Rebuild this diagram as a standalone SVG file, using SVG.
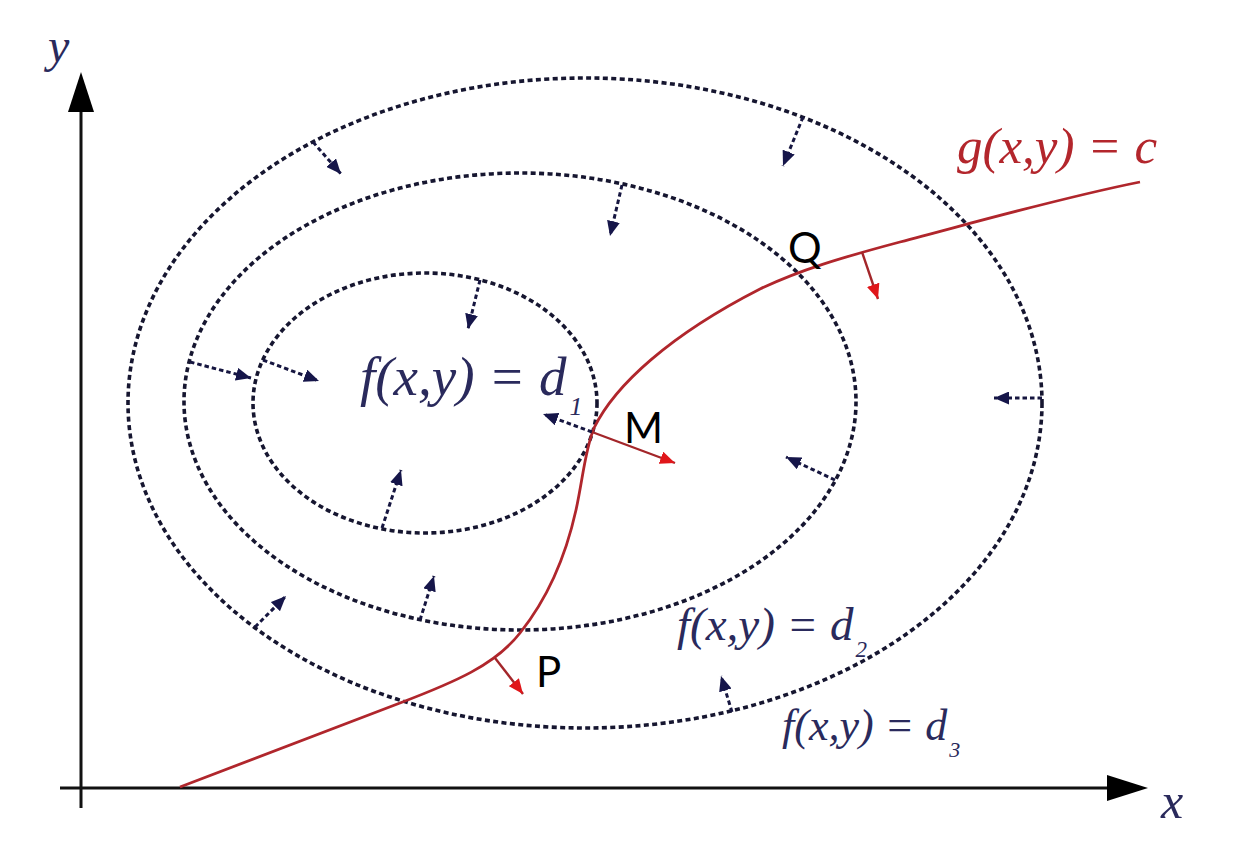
<svg xmlns="http://www.w3.org/2000/svg" width="1238" height="864" viewBox="0 0 1238 864">
<style>
.axis{stroke:#111;stroke-width:3;fill:none}
.level{fill:none;stroke:#161630;stroke-width:3.6;stroke-dasharray:5 3.4}
.grad{fill:none;stroke:#161640;stroke-width:3;stroke-dasharray:4.5 3;marker-end:url(#navyHead)}
.con{fill:none;stroke:#b0262c;stroke-width:2.8}
.norm{fill:none;stroke:#a3262a;stroke-width:2.4;marker-end:url(#redHead)}
.math{font-family:"Liberation Serif","Times New Roman",serif;font-style:italic;fill:#2a2a5c}
.pt{font-family:Lato,"Open Sans",sans-serif;font-size:42px;fill:#000}
</style>
<defs>
<marker id="navyHead" markerUnits="userSpaceOnUse" markerWidth="16" markerHeight="13" refX="15" refY="6.5" orient="auto">
<path d="M0,0 L15,6.5 L0,13 Z" fill="#16164a"/>
</marker>
<marker id="redHead" markerUnits="userSpaceOnUse" markerWidth="16" markerHeight="13" refX="15" refY="6.5" orient="auto">
<path d="M0,0 L15,6.5 L0,13 Z" fill="#e0161a"/>
</marker>
</defs>
<rect width="1238" height="864" fill="#fff"/>

<g id="axes">
<line class="axis" x1="81" y1="808" x2="81" y2="110"/>
<path d="M81,72 L94,112 L68,112 Z" fill="#000"/>
<line class="axis" x1="60" y1="788" x2="1109" y2="788"/>
<path d="M1148,788 L1107,775 L1107,801 Z" fill="#000"/>
<text class="math" x="48" y="62" font-size="48" fill="#222">y</text>
<text class="math" x="1161" y="818" font-size="50" fill="#222">x</text>
</g>

<g id="level-d3">
<ellipse class="level" cx="585" cy="403" rx="457" ry="325"/>
<text class="math" x="782" y="740" font-size="44">f(x,y) = d<tspan font-size="22" dx="2" dy="17">3</tspan></text>
</g>
<g id="level-d2">
<ellipse class="level" cx="520" cy="401.5" rx="336" ry="228.5"/>
<text class="math" x="677" y="640" font-size="47">f(x,y) = d<tspan font-size="23" dx="2" dy="17">2</tspan></text>
</g>
<g id="level-d1">
<ellipse class="level" cx="425" cy="403" rx="172" ry="130"/>
<text class="math" x="360" y="395" font-size="55">f(x,y) = d<tspan font-size="26" dx="3" dy="20">1</tspan></text>
</g>

<g id="constraint">
<path class="con" d="M180,787 L400,703 C455,682 495,665 520,633 C548,598 566,555 576,510 C583,478 585,450 594,428 C615,385 670,335 760,289 C800,270 840,258 900,242 C980,221 1060,198 1140,182"/>
<text x="957" y="163" font-family="Liberation Serif,'Times New Roman',serif" font-style="italic" font-size="51" fill="#b3262c">g(x,y) = c</text>
</g>

<g id="point-Q"><text class="pt" x="788" y="263">Q</text></g>
<g id="point-M"><text class="pt" x="624" y="443">M</text></g>
<g id="point-P"><text class="pt" x="536" y="687">P</text></g>

<g id="connectors">
<line class="grad" x1="313" y1="142" x2="341" y2="174"/>
<line class="grad" x1="803" y1="117" x2="783" y2="166"/>
<line class="grad" x1="622" y1="185" x2="610" y2="236"/>
<line class="grad" x1="480" y1="280" x2="468" y2="329"/>
<line class="grad" x1="190" y1="362" x2="251" y2="378"/>
<line class="grad" x1="263" y1="360" x2="319" y2="381"/>
<line class="grad" x1="382" y1="528" x2="401" y2="470"/>
<line class="grad" x1="592" y1="432" x2="543" y2="414"/>
<line class="grad" x1="835" y1="480" x2="786" y2="457"/>
<line class="grad" x1="1042" y1="398" x2="994" y2="398"/>
<line class="grad" x1="255" y1="627" x2="286" y2="596"/>
<line class="grad" x1="420" y1="620" x2="434" y2="576"/>
<line class="grad" x1="732" y1="712" x2="721" y2="676"/>
<line class="norm" x1="592" y1="432" x2="675" y2="463"/>
<line class="norm" x1="495" y1="658" x2="523" y2="694"/>
<line class="norm" x1="862" y1="252" x2="878" y2="299"/>
</g>
</svg>
